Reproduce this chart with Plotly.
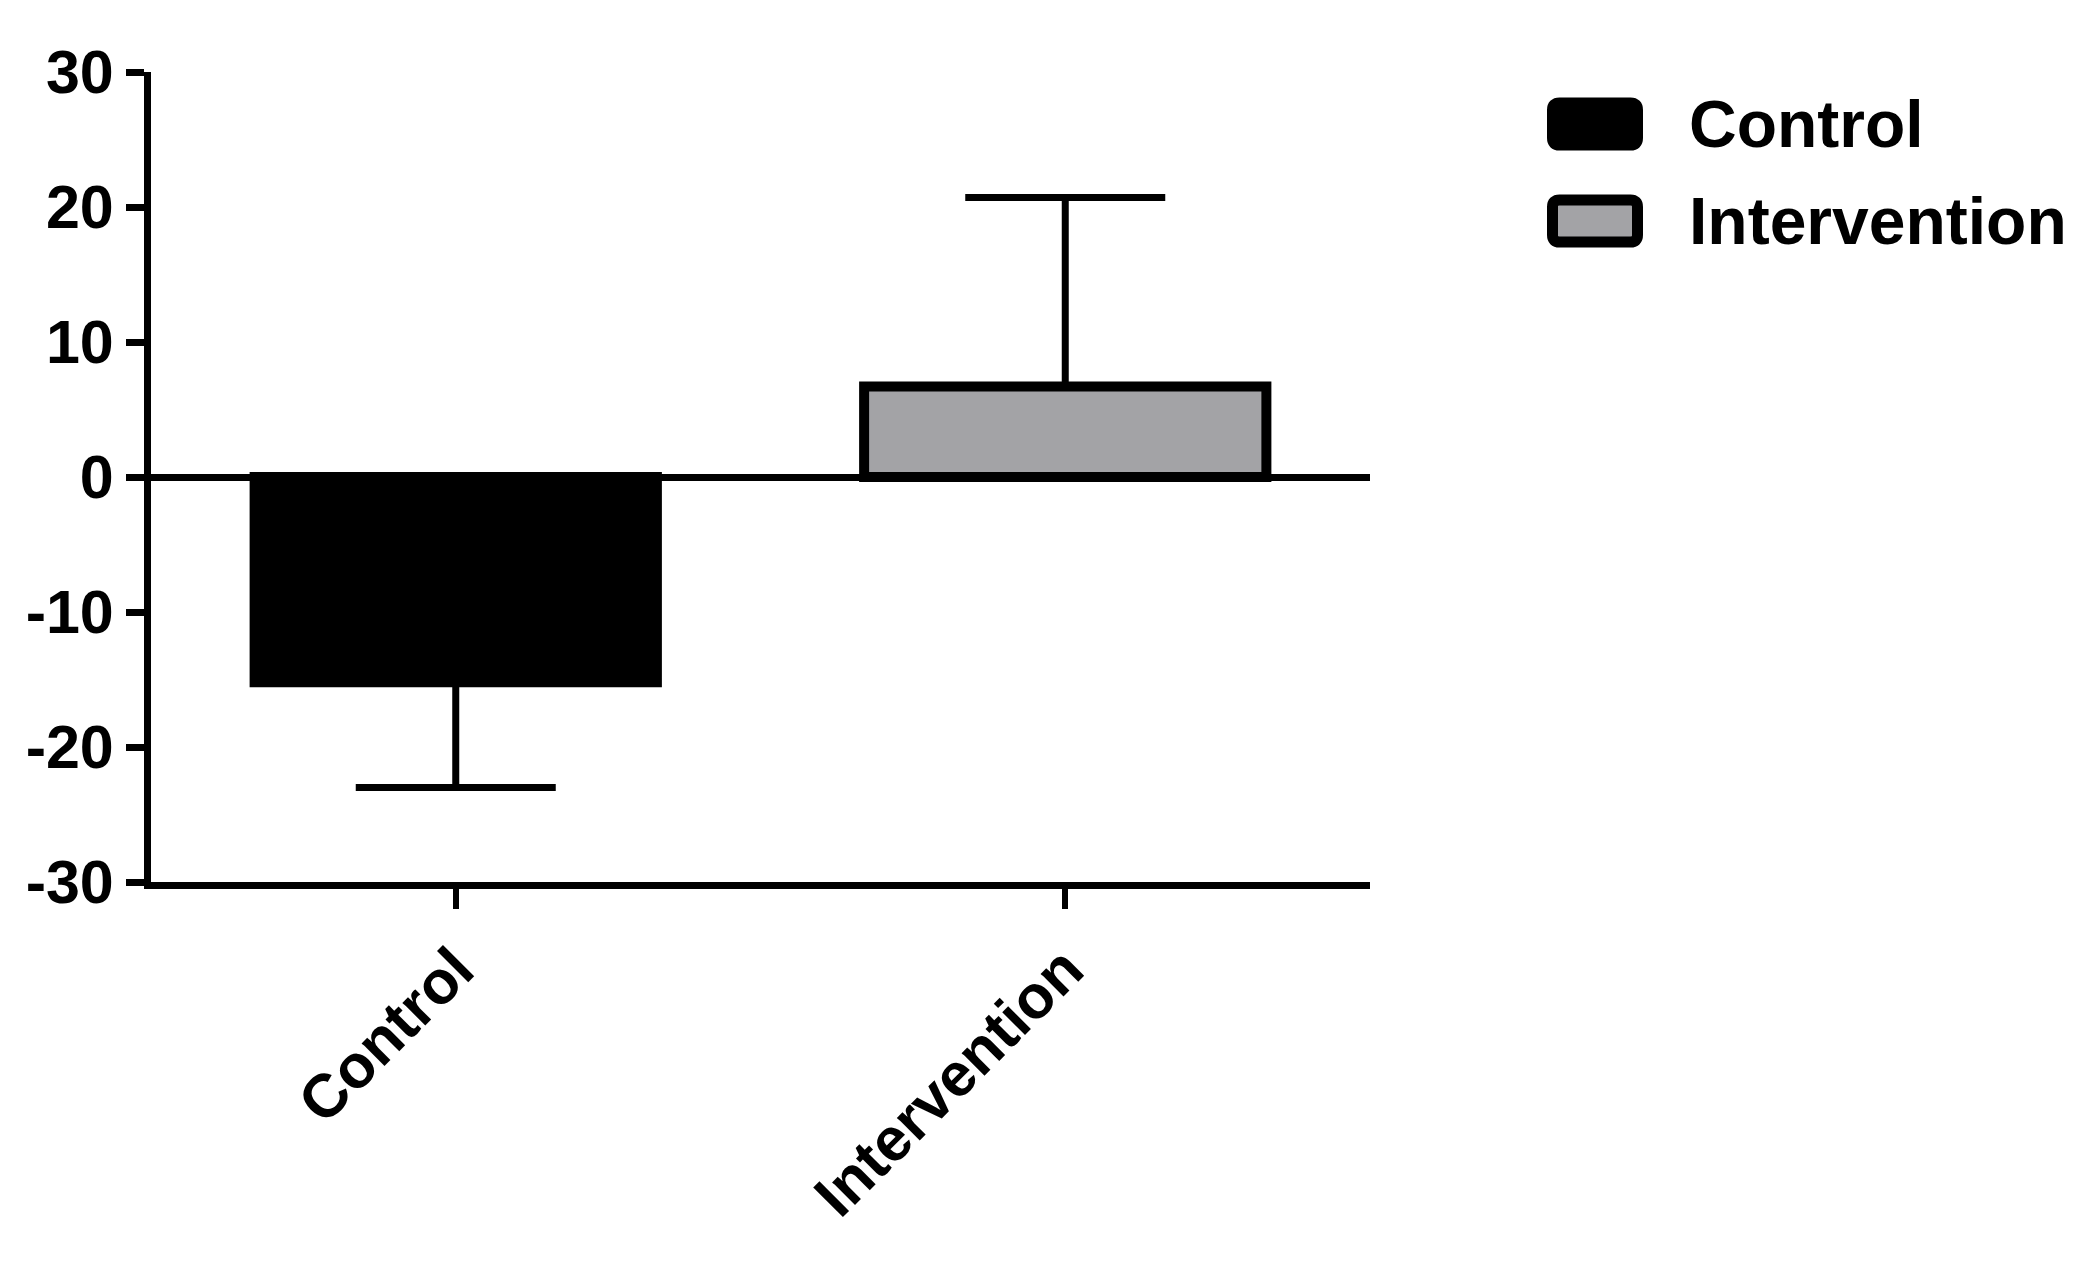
import plotly.graph_objects as go

# ---- data ----
categories = ["Control", "Intervention"]
means = [-15.2, 6.7]
errors = [7.8, 14.0]
fill_colors = ["#000000", "#a3a3a6"]
y_tick_values = [-30, -20, -10, 0, 10, 20, 30]
y_tick_labels = ["-30", "-20", "-10", "0", "10", "20", "30"]

# ---- layout constants (pixels) ----
W, H = 2095, 1266
L, R, T, B = 151, 2095 - 1370, 72, 1266 - 882
PW, PH = W - L - R, H - T - B
FONT = "Liberation Sans, Arial, sans-serif"

fig = go.Figure()
for cat, m, e, c in zip(categories, means, errors, fill_colors):
    up = e if m >= 0 else 0
    down = e if m < 0 else 0
    fig.add_trace(go.Bar(
        x=[cat], y=[m], name=cat, width=0.66,
        marker=dict(color=c, line=dict(color="#000000", width=10)),
        error_y=dict(type="data", symmetric=False, array=[up], arrayminus=[down],
                     color="#000000", thickness=7, width=100),
        showlegend=False,
    ))

fig.update_layout(
    width=W, height=H, autosize=False,
    margin=dict(l=L, r=R, t=T, b=B, pad=0),
    paper_bgcolor="white", plot_bgcolor="white",
    barmode="overlay",
    font=dict(family=FONT, color="#000000"),
    xaxis=dict(
        type="category", range=[-0.5, 1.5],
        showline=True, linecolor="#000000", linewidth=7,
        ticks="outside", ticklen=20, tickwidth=6, tickcolor="#000000",
        tickangle=-45, showgrid=False, zeroline=False,
        tickfont=dict(family=FONT, size=61, weight=700, color="#000000"),
    ),
    yaxis=dict(
        range=[-30, 30], tickvals=y_tick_values, ticktext=y_tick_labels,
        showline=True, linecolor="#000000", linewidth=7,
        ticks="outside", ticklen=18, tickwidth=7, tickcolor="#000000",
        showgrid=False, zeroline=True, zerolinecolor="#000000", zerolinewidth=7,
        tickfont=dict(family=FONT, size=61, weight=700, color="#000000"),
    ),
)

# ---- custom legend (large rounded swatches like the reference) ----
def rounded(a, b, c, d, r):
    return (f"M {a+r},{c} L {b-r},{c} Q {b},{c} {b},{c+r} L {b},{d-r} Q {b},{d} {b-r},{d} "
            f"L {a+r},{d} Q {a},{d} {a},{d-r} L {a},{c+r} Q {a},{c} {a+r},{c} Z")

legend_centers_px = [124, 221]
sw_left, sw_w, sw_h, lw = 1547, 96, 53, 11
for cat, c, cy in zip(categories, fill_colors, legend_centers_px):
    fig.add_shape(
        type="path", xref="paper", yref="paper",
        xsizemode="pixel", ysizemode="pixel",
        xanchor=(sw_left - L) / PW, yanchor=(H - B - cy) / PH,
        path=rounded(lw / 2, sw_w - lw / 2, -(sw_h - lw) / 2, (sw_h - lw) / 2, 7),
        fillcolor=c, line=dict(color="#000000", width=lw),
    )
    fig.add_annotation(
        xref="paper", yref="paper", x=(1687 - L) / PW, y=(H - B - cy) / PH,
        xanchor="left", yanchor="middle", showarrow=False, text=cat,
        font=dict(family=FONT, size=66, weight=700, color="#000000"),
    )

fig.write_html("out.html", config={"displayModeBar": False},
               post_script="document.body.style.margin='0';")
